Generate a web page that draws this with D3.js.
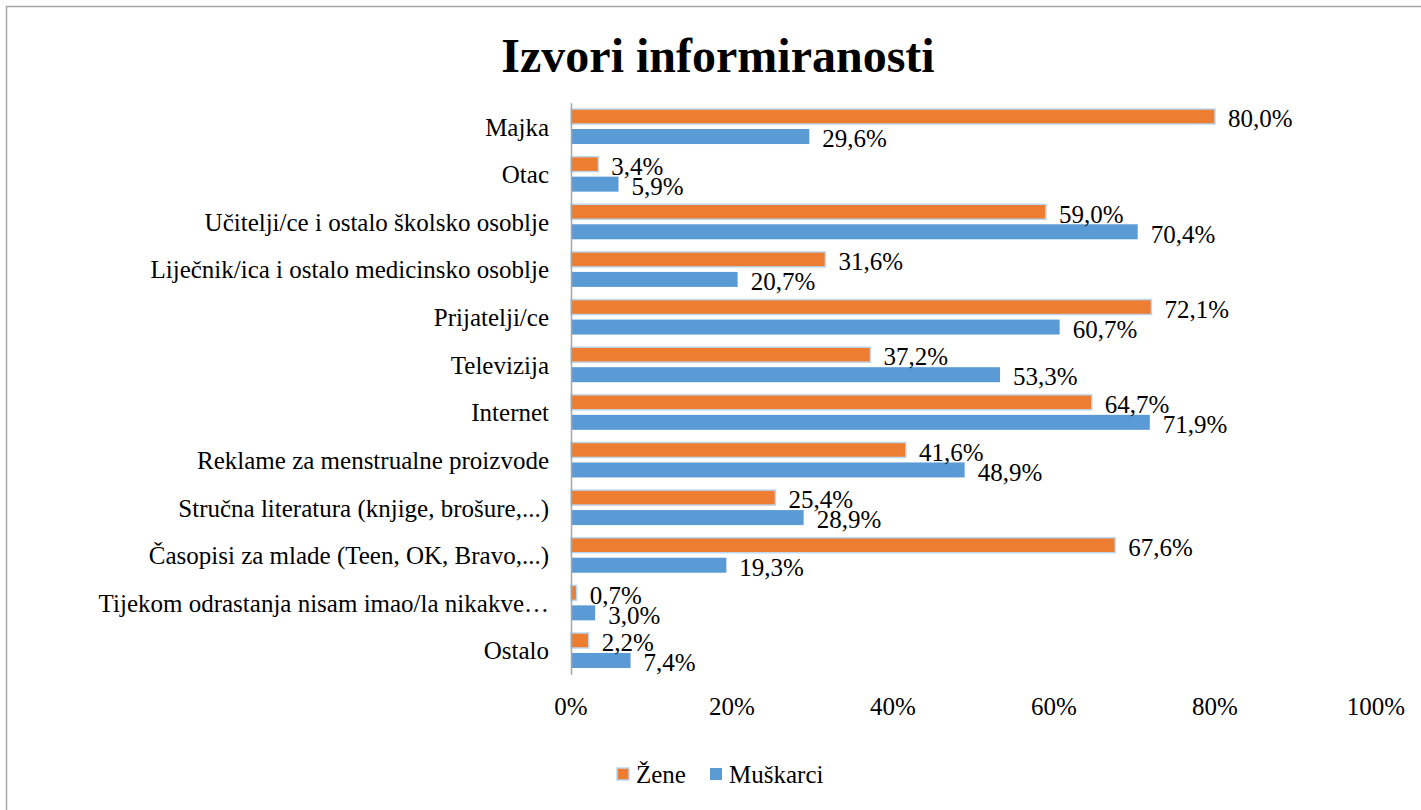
<!DOCTYPE html>
<html>
<head>
<meta charset="utf-8">
<script src="https://cdn.jsdelivr.net/npm/d3@7"></script>
<style>
  body { margin: 0; background: white; }
  svg text { font-family: "Liberation Serif", "Times New Roman", serif; fill: #000; }
</style>
</head>
<body>
<div id="chart"></div>
<script>
var categories = [
    "Majka",
    "Otac",
    "Učitelji/ce i ostalo školsko osoblje",
    "Liječnik/ica i ostalo medicinsko osoblje",
    "Prijatelji/ce",
    "Televizija",
    "Internet",
    "Reklame za menstrualne proizvode",
    "Stručna literatura (knjige, brošure,...)",
    "Časopisi za mlade (Teen, OK, Bravo,...)",
    "Tijekom odrastanja nisam imao/la nikakve…",
    "Ostalo"
];
var series = ["Žene", "Muškarci"];
var zene = [80.0, 3.4, 59.0, 31.6, 72.1, 37.2, 64.7, 41.6, 25.4, 67.6, 0.7, 2.2];
var muskarci = [29.6, 5.9, 70.4, 20.7, 60.7, 53.3, 71.9, 48.9, 28.9, 19.3, 3.0, 7.4];
var xTicks = [0, 20, 40, 60, 80, 100];
var colors = { "Žene": "#ed7d31", "Muškarci": "#5b9bd5" };

var width = 1421;
var height = 810;
var fontSize = "25px";

var svg = d3.select("#chart")
    .append("svg")
    .attr("width", width)
    .attr("height", height)

// chart frame
svg.append("rect")
    .attr("x", 6.5)
    .attr("y", 6.5)
    .attr("width", width)
    .attr("height", height)
    .attr("fill", "white")
    .style("stroke", "#a6a6a6")
    .style("stroke-width", "1.5px")

svg.append("text")
    .attr("x", 718)
    .attr("y", 72)
    .attr("text-anchor", "middle")
    .style("font-size", "48px")
    .style("font-weight", "bold")
    .text("Izvori informiranosti")

var rows = categories.map(function(c, i) {
    return { cat: c, values: [
        { key: "Žene", value: zene[i] },
        { key: "Muškarci", value: muskarci[i] }
    ] };
});

var x = d3.scaleLinear().domain([0, 100]).range([571, 1376]);
var y = d3.scaleBand().domain(categories).range([102.7, 674.3]).paddingInner(0.265).paddingOuter(0.1325);
var ySub = d3.scaleBand().domain(series).range([0, y.bandwidth()]).paddingInner(0.25);

var groups = svg.selectAll(".row")
    .data(rows)
    .enter().append("g")
    .attr("class", "row")
    .attr("transform", function(d) { return "translate(0," + y(d.cat) + ")"; })

groups.selectAll("rect")
    .data(function(d) { return d.values; })
    .enter().append("rect")
    .attr("x", x(0))
    .attr("y", function(d) { return ySub(d.key); })
    .attr("width", function(d) { return x(d.value) - x(0); })
    .attr("height", ySub.bandwidth())
    .attr("fill", function(d) { return colors[d.key]; })
    .style("stroke", function(d) { return d.key == "Žene" ? "#bdd7ee" : "none"; })
    .style("stroke-width", "1.5px")

groups.selectAll(".val")
    .data(function(d) { return d.values; })
    .enter().append("text")
    .attr("class", "val")
    .attr("x", function(d) { return x(d.value) + 13; })
    .attr("y", function(d) { return ySub(d.key) + ySub.bandwidth() / 2 + 2; })
    .attr("dy", "0.35em")
    .style("font-size", fontSize)
    .text(function(d) { return d.value.toFixed(1).replace(".", ",") + "%"; })

// category axis
var yAxis = svg.append("g")
    .attr("class", "yAxis")
    .attr("transform", "translate(" + x(0) + ",0)")
    .call(d3.axisLeft(y).tickSize(0).tickPadding(22))

yAxis.attr("font-family", null).attr("font-size", null)
yAxis.select("path").style("stroke", "#a6a6a6").style("stroke-width", "1.5px")
yAxis.selectAll("text")
    .style("font-size", fontSize)
    .attr("dy", "0.36em")

// value axis labels only
svg.selectAll(".xTick")
    .data(xTicks)
    .enter().append("text")
    .attr("class", "xTick")
    .attr("x", function(d) { return x(d); })
    .attr("y", 715)
    .attr("text-anchor", "middle")
    .style("font-size", fontSize)
    .text(function(d) { return d + "%"; })

// legend
var legend = svg.append("g").attr("transform", "translate(617,774)")
var legendX = [0, 93];
series.forEach(function(s, i) {
    legend.append("rect")
        .attr("x", legendX[i])
        .attr("y", -6)
        .attr("width", 12)
        .attr("height", 12)
        .attr("fill", colors[s])
        .style("stroke", i == 0 ? "#bdd7ee" : "none")
        .style("stroke-width", "1.5px")
    legend.append("text")
        .attr("x", legendX[i] + 19)
        .attr("y", 0)
        .attr("dy", "0.35em")
        .style("font-size", fontSize)
        .text(s)
})
</script>
</body>
</html>
